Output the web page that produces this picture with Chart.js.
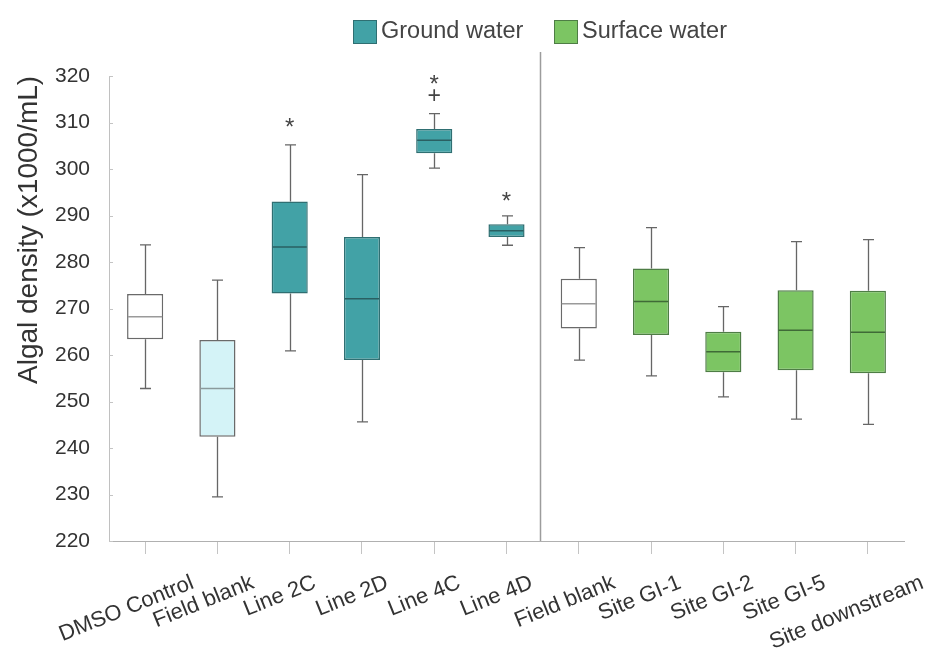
<!DOCTYPE html>
<html>
<head>
<meta charset="utf-8">
<script src="https://cdn.jsdelivr.net/npm/chart.js@4.4.0/dist/chart.umd.min.js"></script>
<style>
  html, body { margin: 0; padding: 0; background: #ffffff; }
  #wrap { width: 931px; height: 649px; position: relative; }
</style>
</head>
<body>
<div id="wrap"><canvas id="chart"></canvas></div>
<script>
// Sample groups along the x axis
const categories = ['DMSO Control', 'Field blank', 'Line 2C', 'Line 2D', 'Line 4C', 'Line 4D',
                    'Field blank', 'Site GI-1', 'Site GI-2', 'Site GI-5', 'Site downstream'];
// Water type of each group: control, blank, ground, surface
const groupType = ['control', 'blank', 'ground', 'ground', 'ground', 'ground',
                   'control', 'surface', 'surface', 'surface', 'surface'];

// Box-plot statistics, algal density (x1000/mL)
const whiskerLow  = [252.8, 229.5, 260.9, 245.6, 300.2, 283.6, 258.9, 255.5, 251.0, 246.2, 245.1];
const quartile1   = [263.4, 242.4, 273.2, 258.9, 303.4, 285.4, 265.7, 264.3, 256.3, 256.7, 256.1];
const medians     = [268.2, 252.8, 283.2, 272.1, 306.2, 286.7, 271.0, 271.5, 260.7, 265.3, 264.9];
const quartile3   = [273.1, 263.2, 293.0, 285.4, 308.6, 288.1, 276.4, 278.6, 265.0, 273.9, 273.8];
const whiskerHigh = [283.7, 276.1, 305.2, 298.8, 311.9, 289.9, 283.1, 287.4, 270.4, 284.4, 284.8];

// Significance marks (*) and outliers (+)
const starIndex   = [2, 4, 5];
const starValues  = [310.3, 319.5, 294.4];
const outlierIndex  = [4];
const outlierValues = [316.1];

// Y axis range and step
const yMin = 220, yMax = 320, yStep = 10;

const legendItems = ['Ground water', 'Surface water'];

const palette = {
  control: { fill: '#ffffff', border: '#6a6a6a', median: '#9a9a9a' },
  blank:   { fill: '#d4f3f7', border: '#6a6a6a', median: '#8a9a9c' },
  ground:  { fill: '#42a2a6', border: '#2f6f72', median: '#2a5f62' },
  surface: { fill: '#7cc563', border: '#4e7d45', median: '#3f6a37' }
};

const FONT = '"Liberation Sans", Arial, sans-serif';

const boxExtras = {
  id: 'boxExtras',
  beforeDatasetsDraw(chart) {
    const { ctx, scales: { x, y }, chartArea } = chart;
    ctx.save();
    // divider between ground water and surface water groups
    const dx = Math.round(x.getPixelForValue(5.46)) + 0.5;
    ctx.strokeStyle = '#9c9c9c';
    ctx.lineWidth = 1.5;
    ctx.beginPath();
    ctx.moveTo(dx, 52);
    ctx.lineTo(dx, chartArea.bottom);
    ctx.stroke();

    // whiskers with caps
    ctx.strokeStyle = '#666666';
    ctx.lineWidth = 1.3;
    const cap = 5.5;
    categories.forEach((_, i) => {
      const cx = Math.round(x.getPixelForValue(i)) + 0.5;
      const yl = y.getPixelForValue(whiskerLow[i]);
      const yh = y.getPixelForValue(whiskerHigh[i]);
      const y1 = y.getPixelForValue(quartile1[i]);
      const y3 = y.getPixelForValue(quartile3[i]);
      ctx.beginPath();
      ctx.moveTo(cx, y3); ctx.lineTo(cx, yh);
      ctx.moveTo(cx - cap, yh); ctx.lineTo(cx + cap, yh);
      ctx.moveTo(cx, y1); ctx.lineTo(cx, yl);
      ctx.moveTo(cx - cap, yl); ctx.lineTo(cx + cap, yl);
      ctx.stroke();
    });
    ctx.restore();
  },
  afterDatasetsDraw(chart) {
    const { ctx, scales: { x, y } } = chart;
    const meta = chart.getDatasetMeta(0);
    ctx.save();
    // median lines across each box
    ctx.lineWidth = 1.5;
    categories.forEach((_, i) => {
      const bar = meta.data[i];
      const half = bar.width / 2;
      const ym = y.getPixelForValue(medians[i]);
      ctx.strokeStyle = palette[groupType[i]].median;
      ctx.beginPath();
      ctx.moveTo(bar.x - half + 1, ym);
      ctx.lineTo(bar.x + half - 1, ym);
      ctx.stroke();
    });
    // significance stars and outliers
    ctx.fillStyle = '#444444';
    ctx.textAlign = 'center';
    ctx.textBaseline = 'alphabetic';
    ctx.font = '24px ' + FONT;
    starIndex.forEach((ci, k) => {
      ctx.fillText('*', x.getPixelForValue(ci), y.getPixelForValue(starValues[k]) + 14);
    });
    ctx.font = '23px ' + FONT;
    outlierIndex.forEach((ci, k) => {
      ctx.fillText('+', x.getPixelForValue(ci), y.getPixelForValue(outlierValues[k]) + 8.5);
    });
    ctx.restore();
  },
  afterDraw(chart) {
    const { ctx, scales: { x, y }, chartArea } = chart;
    ctx.save();
    // short inner tick marks on the y axis
    ctx.strokeStyle = '#c4c4c4';
    ctx.lineWidth = 1;
    y.ticks.forEach(t => {
      const py = Math.round(y.getPixelForValue(t.value)) + 0.5;
      ctx.beginPath();
      ctx.moveTo(chartArea.left, py);
      ctx.lineTo(chartArea.left + 4, py);
      ctx.stroke();
    });

    // y axis title
    ctx.fillStyle = '#333333';
    ctx.font = '28px ' + FONT;
    ctx.textAlign = 'left';
    ctx.textBaseline = 'alphabetic';
    ctx.save();
    ctx.translate(37, 384);
    ctx.rotate(-Math.PI / 2);
    ctx.fillText('Algal density (x1000/mL)', 0, 0);
    ctx.restore();

    // slanted category labels
    const ang = 22 * Math.PI / 180;
    ctx.font = '22px ' + FONT;
    ctx.fillStyle = '#333333';
    ctx.textAlign = 'right';
    ctx.textBaseline = 'middle';
    categories.forEach((lab, i) => {
      const tx = x.getPixelForTick(i);
      const w = ctx.measureText(lab).width;
      const ex = tx + 0.36 * w * Math.cos(ang);
      const ey = chartArea.bottom + 41;
      ctx.save();
      ctx.translate(ex, ey);
      ctx.rotate(-ang);
      ctx.fillText(lab, 0, 0);
      ctx.restore();
    });

    // legend
    const items = [
      { text: legendItems[0], c: palette.ground, bx: 353, tx: 381 },
      { text: legendItems[1], c: palette.surface, bx: 554, tx: 582 }
    ];
    ctx.font = '23.5px ' + FONT;
    ctx.textAlign = 'left';
    ctx.textBaseline = 'alphabetic';
    items.forEach(it => {
      ctx.fillStyle = it.c.fill;
      ctx.fillRect(it.bx, 20, 23, 23);
      ctx.strokeStyle = it.c.border;
      ctx.lineWidth = 1;
      ctx.strokeRect(it.bx + 0.5, 20.5, 23, 23);
      ctx.fillStyle = '#444444';
      ctx.fillText(it.text, it.tx, 38);
    });
    ctx.restore();
  }
};

const boxColors = groupType.map(g => palette[g].fill);
const boxBorders = groupType.map(g => palette[g].border);

new Chart(document.getElementById('chart'), {
  type: 'bar',
  data: {
    labels: categories,
    datasets: [{
      label: 'Interquartile range',
      data: categories.map((_, i) => [quartile1[i], quartile3[i]]),
      backgroundColor: boxColors,
      borderColor: boxBorders,
      borderWidth: 1.5,
      borderSkipped: false,
      barPercentage: 0.5,
      categoryPercentage: 1.0
    }]
  },
  options: {
    responsive: true,
    maintainAspectRatio: false,
    animation: false,
    devicePixelRatio: 1,
    layout: { padding: { top: 76, right: 27, left: 0, bottom: 0 } },
    plugins: {
      legend: { display: false },
      tooltip: { enabled: false },
      title: { display: false }
    },
    scales: {
      x: {
        type: 'category',
        offset: true,
        grid: { display: true, drawOnChartArea: false, drawTicks: true, tickLength: 13,
                color: '#c4c4c4', offset: false },
        border: { display: true, color: '#b0b0b0', width: 1 },
        ticks: { display: false },
        afterFit(s) { s.height = 108; }
      },
      y: {
        min: yMin,
        max: yMax,
        ticks: { stepSize: yStep, color: '#333333', font: { size: 21, family: FONT }, padding: 19 },
        grid: { drawOnChartArea: false, drawTicks: false },
        border: { display: true, color: '#c0c0c0', width: 1 },
        afterFit(s) { s.width = 109; }
      }
    }
  },
  plugins: [boxExtras]
});
</script>
</body>
</html>
